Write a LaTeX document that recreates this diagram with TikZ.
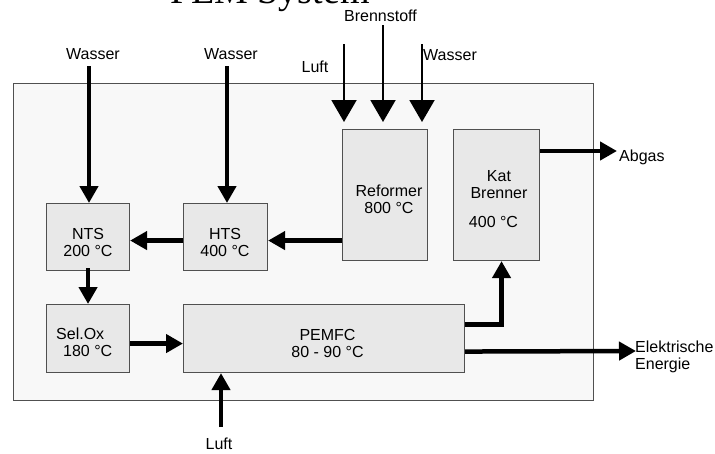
\documentclass[tikz,border=0pt]{standalone}
\usepackage{fontspec}
\setmainfont{Liberation Sans}
\newfontfamily\titlefont{Liberation Serif}
\usetikzlibrary{arrows.meta,positioning}
\definecolor{outerfill}{HTML}{F8F8F8}
\definecolor{boxfill}{HTML}{E8E8E8}
\definecolor{edge}{HTML}{505050}
\begin{document}
\begin{tikzpicture}[x=1pt,y=-1pt,
  font=\fontsize{16}{17}\selectfont,
  blk/.style={draw=edge,fill=boxfill,line width=1.1pt,inner sep=0pt,anchor=north west},
  txt/.style={inner sep=0pt,align=center},
  thk/.style={line width=4.5pt,-{Triangle[length=17pt,width=18pt]}},
  thn/.style={line width=2pt,-{Triangle[length=22pt,width=25pt]}}]
\useasboundingbox (0,0) rectangle (715,453);
% title
\node[anchor=base,inner sep=0pt,font=\titlefont\fontsize{38}{40}\selectfont] (title) at (270,3) {PEM System};
% outer box
\node[draw=edge,fill=outerfill,line width=1.1pt,inner sep=0pt,anchor=north west,minimum width=580pt,minimum height=317pt] (sys) at (13,83) {};
% inner boxes
\node[blk,minimum width=83pt,minimum height=67pt] (nts) at (46,203) {};
\node[blk,minimum width=84pt,minimum height=67pt] (hts) at (183,203) {};
\node[blk,minimum width=83pt,minimum height=68pt] (selox) at (46,304) {};
\node[blk,minimum width=281pt,minimum height=68pt] (pemfc) at (183,304) {};
\node[blk,minimum width=85pt,minimum height=131pt] (ref) at (342,129) {};
\node[blk,minimum width=86pt,minimum height=131pt] (kat) at (453,129) {};
% box texts
\node[txt] (ntsT) at (88,242) {NTS\\200 °C};
\node[txt] (htsT) at (225,242) {HTS\\400 °C};
\node[txt,align=left,anchor=west] (seloxT) at (56,342) {Sel.Ox\\\hspace*{7pt}180 °C};
\node[txt] (pemfcT) at (327.5,343.5) {PEMFC\\80 - 90 °C};
\node[txt] (refT) at (389,199.5) {Reformer\\800 °C};
\node[txt] (katT) at (499,184.5) {Kat\\Brenner};
\node[txt] (katT2) at (493.5,222) {400 °C};
% outside labels
\node[txt] (lw1) at (93,54) {Wasser};
\node[txt] (lw2) at (231,54) {Wasser};
\node[txt] (lluft) at (315,67) {Luft};
\node[txt] (lbrenn) at (380.5,16) {Brennstoff};
\node[txt,anchor=west] (lw3) at (423,55) {Wasser};
\node[txt] (lluft2) at (219,444) {Luft};
\node[txt,anchor=west] (labgas) at (619,157) {Abgas};
\node[txt,align=left,anchor=west] (lel) at (635,356.5) {Elektrische\\Energie};
% coordinates for free ends
\coordinate (w1s) at (89,66);
\coordinate (w2s) at (227,66);
\coordinate (luftS) at (344,44);
\coordinate (brS) at (383,25);
\coordinate (w3S) at (422,44);
\coordinate (luftB) at (221,427);
\coordinate (abgasE) at (617,151);
\coordinate (elE) at (636,351);
% arrows
\draw[thk] (w1s) -- (w1s |- nts.north);
\draw[thk] (w2s) -- (w2s |- hts.north);
\draw[thn,shorten >=7pt] (luftS) -- (luftS |- ref.north);
\draw[thn,shorten >=7pt] (brS) -- (brS |- ref.north);
\draw[thn,shorten >=7pt] (w3S) -- (w3S |- ref.north);
\draw[thk] ([yshift=-3.5pt]hts.east -| ref.west) -- ([yshift=-3.5pt]hts.east);
\draw[thk] ([yshift=-3.5pt]hts.west) -- ([yshift=-3.5pt]nts.east);
\draw[thk] ([yshift=3pt]nts.south) -- (selox.north);
\draw[thk] ([yshift=-5pt]selox.east) -- ([yshift=-5pt]pemfc.west);
\draw[thk] (luftB) -- (luftB |- pemfc.south);
\draw[thk] ([yshift=14pt]pemfc.east) -| ([xshift=5pt]kat.south);
\draw[thk] ([yshift=-13pt]pemfc.east) -- (elE);
\draw[thk] ([yshift=-22pt]kat.north east) -- (abgasE);
\end{tikzpicture}
\end{document}
